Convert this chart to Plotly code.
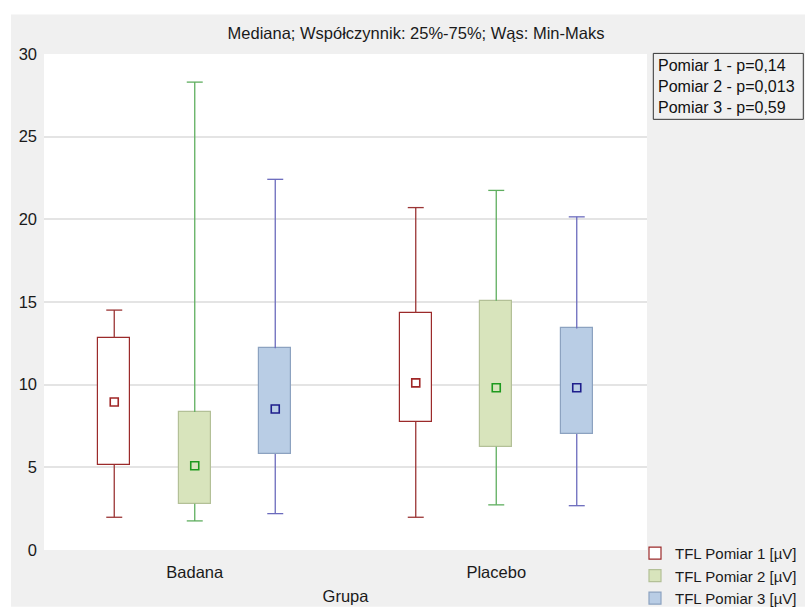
import plotly.graph_objects as go

# ---- data ----
groups = ["Badana", "Placebo"]
series = ["TFL Pomiar 1 [µV]", "TFL Pomiar 2 [µV]", "TFL Pomiar 3 [µV]"]
mins = [[1.98, 1.98], [1.76, 2.73], [2.20, 2.68]]
q1 = [[5.14, 7.76], [2.79, 6.25], [5.81, 7.02]]
medians = [[8.95, 10.11], [5.10, 9.81], [8.53, 9.81]]
q3 = [[12.83, 14.34], [8.34, 15.07], [12.21, 13.40]]
maxs = [[14.51, 20.71], [28.30, 21.75], [22.42, 20.15]]
pvals = ["Pomiar 1 - p=0,14", "Pomiar 2 - p=0,013", "Pomiar 3 - p=0,59"]
title_text = "Mediana; Współczynnik: 25%-75%; Wąs: Min-Maks"
x_title = "Grupa"
y_ticks = [0, 5, 10, 15, 20, 25, 30]

# ---- styles ----
fills = ["#ffffff", "#d8e4bc", "#b9cde5"]
box_lines = ["#9b2a2a", "#b3c097", "#8ca2c0"]
whisker_cols = ["#9b3535", "#5fae5f", "#6b6bbd"]
median_cols = ["#a02626", "#1e9a1e", "#1e1e8c"]
offsets = [-0.267, 0.0, 0.267]
box_w = 0.107
cap_hw = 0.0265
FONT = "Liberation Sans, Arial, sans-serif"
FS = 16.5

W, H = 805, 608
L, R, T, B = 44, 647, 53.6, 550.1
pw, ph = R - L, B - T


def px_x(px):
    return (px - L) / pw


def px_y(py):
    return (B - py) / ph


fig = go.Figure()

# boxes (Q1..Q3)
for i, name in enumerate(series):
    xs = [g + offsets[i] for g in range(len(groups))]
    fig.add_trace(go.Bar(
        x=xs, base=q1[i], y=[b - a for a, b in zip(q1[i], q3[i])],
        width=box_w, name=name,
        marker=dict(color=fills[i], line=dict(color=box_lines[i], width=1.2)),
        hoverinfo="skip", showlegend=True,
    ))

# whiskers with caps
for i in range(len(series)):
    wx, wy = [], []
    for g in range(len(groups)):
        xc = g + offsets[i]
        wx += [xc, xc, None, xc - cap_hw, xc + cap_hw, None,
               xc, xc, None, xc - cap_hw, xc + cap_hw, None]
        wy += [q3[i][g], maxs[i][g], None, maxs[i][g], maxs[i][g], None,
               q1[i][g], mins[i][g], None, mins[i][g], mins[i][g], None]
    fig.add_trace(go.Scatter(x=wx, y=wy, mode="lines",
                             line=dict(color=whisker_cols[i], width=1.3),
                             showlegend=False, hoverinfo="skip"))

# medians
for i in range(len(series)):
    xs = [g + offsets[i] for g in range(len(groups))]
    fig.add_trace(go.Scatter(
        x=xs, y=medians[i], mode="markers", showlegend=False,
        marker=dict(symbol="square-open", size=8,
                    line=dict(color=median_cols[i], width=1.6),
                    color=median_cols[i]),
    ))

shapes = [
    dict(type="rect", xref="paper", yref="paper", layer="below",
         x0=px_x(11), x1=px_x(806), y0=px_y(607), y1=px_y(14),
         fillcolor="#f0f0f0", line=dict(width=0)),
    dict(type="rect", xref="paper", yref="paper", layer="below",
         x0=0, x1=1, y0=0, y1=1, fillcolor="#ffffff", line=dict(width=0)),
    dict(type="rect", xref="paper", yref="paper", layer="above",
         x0=px_x(653.3), x1=px_x(803.3), y0=px_y(119), y1=px_y(53),
         fillcolor="rgba(0,0,0,0)", line=dict(color="#333333", width=1)),
]

annotations = [dict(
    text="<br>".join(pvals), xref="paper", yref="paper",
    x=px_x(656), y=px_y(86.5), xanchor="left", yanchor="middle", align="left",
    showarrow=False, font=dict(family=FONT, size=16, color="#111111"),
)]

fig.update_layout(
    width=W, height=H,
    margin=dict(l=L, r=W - R, t=T, b=H - B, pad=0, autoexpand=False),
    paper_bgcolor="#ffffff", plot_bgcolor="#ffffff",
    barmode="overlay", bargap=0,
    font=dict(family=FONT, size=FS, color="#1a1a1a"),
    title=dict(text=title_text, x=416 / W, y=1 - 33 / H, xanchor="center",
               yanchor="middle", xref="container", yref="container",
               font=dict(family=FONT, size=FS, color="#1a1a1a")),
    xaxis=dict(range=[-0.5, 1.5], tickvals=list(range(len(groups))),
               ticktext=groups, showgrid=False, zeroline=False,
               showline=False, ticks="", ticklabelstandoff=10,
               title=dict(text=x_title, standoff=10,
                          font=dict(family=FONT, size=FS))),
    yaxis=dict(range=[0, 30], tickvals=y_ticks, showgrid=True,
               gridcolor="#e4e4e4", gridwidth=1.5, zeroline=False,
               showline=False, ticks="", ticklabelstandoff=6),
    legend=dict(x=px_x(635), y=px_y(537), xanchor="left", yanchor="top",
                bgcolor="rgba(0,0,0,0)", font=dict(family=FONT, size=15),
                tracegroupgap=0, itemwidth=30),
    shapes=shapes, annotations=annotations,
    showlegend=True,
)

fig.write_html("out.html", config={"displayModeBar": False},
               post_script="document.body.style.margin='0';")
